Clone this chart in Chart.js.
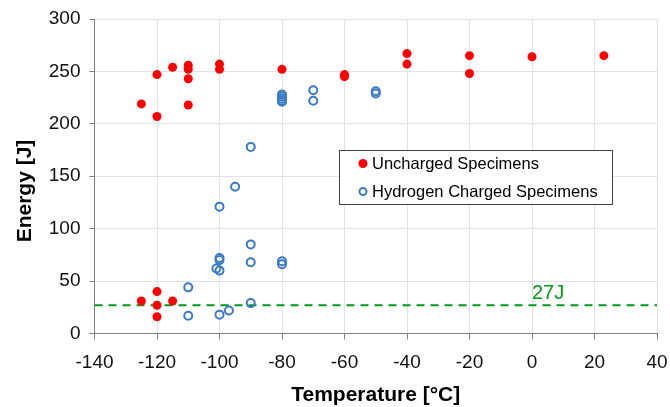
<!DOCTYPE html>
<html>
<head>
<meta charset="utf-8">
<script src="https://cdn.jsdelivr.net/npm/chart.js@4.4.1/dist/chart.umd.min.js"></script>
<style>
  html, body { margin: 0; padding: 0; background: #ffffff; }
  #wrap { width: 670px; height: 407px; }
</style>
</head>
<body>
<div id="wrap"><canvas id="impactChart" width="670" height="407"></canvas></div>
<script>
// Uncharged specimens
const unchargedTemp = [-125, -120, -120, -115, -110, -110, -110, -110, -100, -100, -80, -60, -60, -40, -40, -20, -20, 0, 23, -125, -120, -120, -120, -115];
const unchargedEnergy = [219, 247, 207, 254, 256, 252, 243, 218, 257, 252, 252, 247, 245, 267, 257, 265, 248, 264, 265, 31, 40, 27, 16, 31];

// Hydrogen charged specimens
const chargedTemp = [-90, -80, -80, -80, -80, -80, -70, -70, -50, -50, -95, -100, -100, -100, -101, -100, -90, -90, -80, -80, -110, -110, -100, -97, -90];
const chargedEnergy = [178, 228, 226, 224, 222, 221, 232, 222, 231, 229, 140, 121, 72, 70, 62, 60, 85, 68, 69, 66, 44, 17, 18, 22, 29];

// 27J reference line
const limitTemp = [-140, 40];
const limitEnergy = [27, 27];
const limitLabel = "27J";

const seriesNames = ["Uncharged Specimens", "Hydrogen Charged Specimens"];
const xTitle = "Temperature [°C]";
const yTitle = "Energy [J]";

const RED = "#ff0000";
const BLUE = "#3a7bc6";
const GREEN = "#009a1a";
const FONT = "'Liberation Sans', Arial, sans-serif";

function toPoints(xs, ys) {
    return xs.map((x, i) => ({ x: x, y: ys[i] }));
}

// legend box + axis titles + 27J label
const overlay = {
    id: "overlay",
    afterDraw(chart) {
        const c = chart.ctx;
        const xs = chart.scales.x;
        const ys = chart.scales.y;
        c.save();

        // 27J label
        c.fillStyle = GREEN;
        c.font = "20px " + FONT;
        c.textAlign = "left";
        c.textBaseline = "alphabetic";
        c.fillText(limitLabel, xs.getPixelForValue(0), ys.getPixelForValue(limitEnergy[0]) - 6);

        // axis titles
        c.fillStyle = "#000000";
        c.font = "bold 21px " + FONT;
        c.textAlign = "center";
        c.textBaseline = "middle";
        c.fillText(xTitle, (chart.chartArea.left + chart.chartArea.right) / 2, 395);
        c.save();
        c.translate(25, 191);
        c.rotate(-Math.PI / 2);
        c.fillText(yTitle, 0, 0);
        c.restore();

        // legend
        c.fillStyle = "#ffffff";
        c.fillRect(339.5, 150.5, 273, 54);
        c.strokeStyle = "#404040";
        c.lineWidth = 1;
        c.strokeRect(339.5, 150.5, 273, 54);

        c.beginPath();
        c.arc(363, 163.5, 4.5, 0, Math.PI * 2);
        c.fillStyle = RED;
        c.fill();

        c.beginPath();
        c.arc(363, 191.5, 3.5, 0, Math.PI * 2);
        c.strokeStyle = BLUE;
        c.lineWidth = 2;
        c.stroke();

        c.fillStyle = "#000000";
        c.font = "16.5px " + FONT;
        c.textAlign = "left";
        c.textBaseline = "middle";
        c.fillText(seriesNames[0], 372, 164);
        c.fillText(seriesNames[1], 372, 192);
        c.restore();
    }
};

const ctx = document.getElementById("impactChart").getContext("2d");

const impactChart = new Chart(ctx, {
    type: "scatter",
    data: {
        datasets: [
            {
                type: "line",
                label: "27J",
                data: toPoints(limitTemp, limitEnergy),
                borderColor: GREEN,
                borderWidth: 2,
                borderDash: [8, 6],
                pointRadius: 0,
                fill: false,
                order: 3,
            },
            {
                label: seriesNames[1],
                data: toPoints(chargedTemp, chargedEnergy),
                backgroundColor: "rgba(255,255,255,0)",
                borderColor: BLUE,
                borderWidth: 2,
                pointRadius: 4,
                order: 2,
            },
            {
                label: seriesNames[0],
                data: toPoints(unchargedTemp, unchargedEnergy),
                backgroundColor: RED,
                borderColor: RED,
                borderWidth: 0,
                pointRadius: 4.5,
                order: 1,
            },
        ],
    },
    options: {
        responsive: false,
        animation: false,
        layout: { padding: { top: 19, right: 13, left: 0, bottom: 0 } },
        plugins: {
            legend: { display: false },
            tooltip: { enabled: false },
        },
        scales: {
            x: {
                type: "linear",
                min: -140,
                max: 40,
                ticks: {
                    stepSize: 20,
                    color: "#111111",
                    font: { size: 19, family: FONT },
                    padding: 12,
                    maxRotation: 0,
                },
                grid: {
                    color: "#e2e2e2",
                    tickColor: "#808080",
                    tickLength: 6,
                },
                border: { color: "#808080", width: 1 },
                afterFit(scale) {
                    scale.height = 73.5;
                    scale.paddingLeft = 0;
                    scale.paddingRight = 0;
                },
            },
            y: {
                min: 0,
                max: 300,
                ticks: {
                    stepSize: 50,
                    color: "#111111",
                    font: { size: 19, family: FONT },
                    padding: 9,
                },
                grid: {
                    color: "#e2e2e2",
                    tickColor: "#808080",
                    tickLength: 5,
                },
                border: { color: "#808080", width: 1 },
                afterFit(scale) {
                    scale.width = 94.5;
                    scale.paddingTop = 0;
                    scale.paddingBottom = 0;
                },
            },
        },
    },
    plugins: [overlay],
});
</script>
</body>
</html>
